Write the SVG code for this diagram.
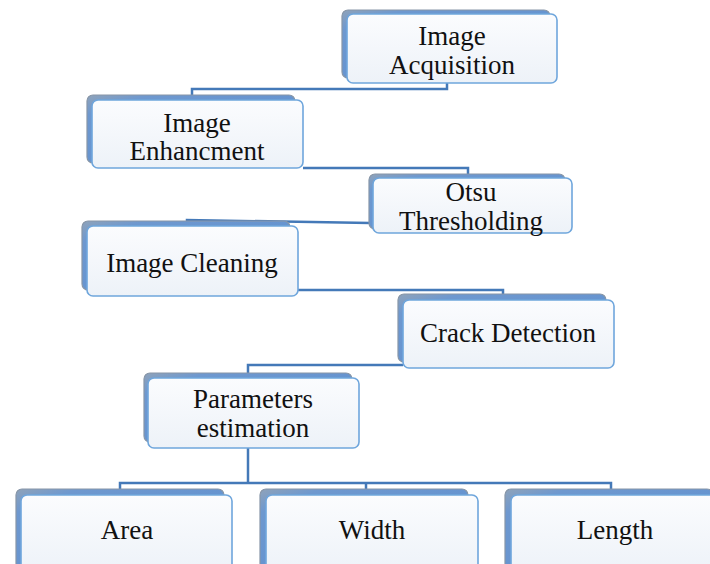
<svg xmlns="http://www.w3.org/2000/svg" width="710" height="564" viewBox="0 0 710 564">
<defs>
<linearGradient id="fg" x1="0" y1="0" x2="0" y2="1">
<stop offset="0" stop-color="#fbfcfe"/>
<stop offset="1" stop-color="#edf2f8"/>
</linearGradient>
<linearGradient id="sg" x1="0" y1="0" x2="1" y2="1">
<stop offset="0" stop-color="#8fa3ba"/>
<stop offset="0.15" stop-color="#6e98cf"/>
<stop offset="1" stop-color="#5d8fd0"/>
</linearGradient>
</defs>
<style>
.sh{fill:url(#sg);stroke:#8796a8;stroke-width:1.2}
.fr{fill:url(#fg);stroke:#6fa6dc;stroke-width:1.6}
.t{font-family:"Liberation Serif","Times New Roman",serif;font-size:27px;fill:#111;text-anchor:middle}
.c{fill:none;stroke:#4479b8;stroke-width:2.5}
</style>
<g id="connectors">
<polyline class="c" points="447,83 447,89 192,89 192,97"/>
<polyline class="c" points="303,168 468,168 468,176"/>
<polyline class="c" points="370,223 187,220 187,222"/>
<polyline class="c" points="298,290 503,290 503,295"/>
<polyline class="c" points="403,365 248,365 248,374"/>
<polyline class="c" points="248,448 248,483"/>
<polyline class="c" points="120,490 120,483 611,483 611,490"/>
<polyline class="c" points="366,483 366,490"/>
</g>
<g id="n1">
<rect class="sh" x="342" y="10" width="208" height="68" rx="6"/>
<rect class="fr" x="347" y="14" width="210" height="69" rx="6"/>
<text class="t" x="452" y="45">Image</text>
<text class="t" x="452" y="74">Acquisition</text>
</g>
<g id="n2">
<rect class="sh" x="87" y="95" width="208" height="68" rx="6"/>
<rect class="fr" x="92" y="100" width="211" height="68" rx="6"/>
<text class="t" x="197" y="132">Image</text>
<text class="t" x="197" y="160">Enhancment</text>
</g>
<g id="n3">
<rect class="sh" x="369" y="174" width="196" height="55" rx="6"/>
<rect class="fr" x="373" y="178" width="199" height="55" rx="6"/>
<text class="t" x="471" y="201">Otsu</text>
<text class="t" x="471" y="230">Thresholding</text>
</g>
<g id="n4">
<rect class="sh" x="82" y="221" width="208" height="69" rx="6"/>
<rect class="fr" x="87" y="226" width="211" height="70" rx="6"/>
<text class="t" x="192" y="272">Image Cleaning</text>
</g>
<g id="n5">
<rect class="sh" x="398" y="294" width="208" height="68" rx="6"/>
<rect class="fr" x="403" y="300" width="211" height="68" rx="6"/>
<text class="t" x="508" y="342">Crack Detection</text>
</g>
<g id="n6">
<rect class="sh" x="144" y="373" width="208" height="69" rx="6"/>
<rect class="fr" x="148" y="378" width="211" height="70" rx="6"/>
<text class="t" x="253" y="408">Parameters</text>
<text class="t" x="253" y="437">estimation</text>
</g>
<g id="n7">
<rect class="sh" x="16" y="489" width="208" height="80" rx="6"/>
<rect class="fr" x="21" y="495" width="211" height="80" rx="6"/>
<text class="t" x="127" y="539">Area</text>
</g>
<g id="n8">
<rect class="sh" x="260" y="489" width="208" height="80" rx="6"/>
<rect class="fr" x="266" y="495" width="212" height="80" rx="6"/>
<text class="t" x="372" y="539">Width</text>
</g>
<g id="n9">
<rect class="sh" x="505" y="489" width="208" height="80" rx="6"/>
<rect class="fr" x="511" y="495" width="212" height="80" rx="6"/>
<text class="t" x="615" y="539">Length</text>
</g>
</svg>
